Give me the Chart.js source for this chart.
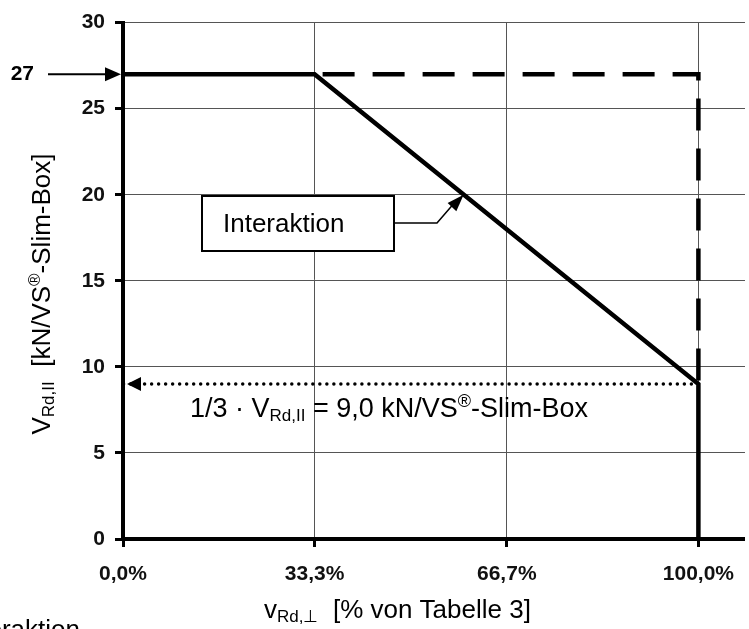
<!DOCTYPE html>
<html>
<head>
<meta charset="utf-8">
<script src="https://cdn.jsdelivr.net/npm/chart.js@4.4.1/dist/chart.umd.min.js"></script>
<style>
  html, body { margin: 0; padding: 0; background: #fff; }
  #wrap { position: relative; width: 749px; height: 629px; overflow: hidden; }
</style>
</head>
<body>
<div id="wrap"><canvas id="chart" width="749" height="629"></canvas></div>
<script>
// Werte aus dem Diagramm (x in % von Tabelle 3, y in kN/VS-Slim-Box)
const xTicks = [0, 33.3, 66.7, 100];
const xTickLabels = ['0,0%', '33,3%', '66,7%', '100,0%'];
const interaktionX = [0, 33.3, 100, 100];
const interaktionY = [27, 27, 9, 0];
const grenzeX = [33.3, 100, 100];
const grenzeY = [27, 27, 9];
const drittelX = [100, 0];
const drittelY = [9, 9];
const vMax = 27;
const vDrittel = 9;
const zeigerX = 59.2; // Punkt auf der Interaktionslinie, auf den der Pfeil zeigt
const zeigerY = 20;

const FONT = "'Liberation Sans', Arial, sans-serif";

function pts(xs, ys) {
    return xs.map((x, i) => ({ x: x, y: ys[i] }));
}

// Text mit Hoch-/Tiefstellungen zeichnen
function drawRich(ctx, parts, x, y) {
    let cx = x;
    parts.forEach(p => {
        ctx.font = p.size + 'px ' + FONT;
        ctx.fillText(p.t, cx, y + (p.dy || 0));
        cx += ctx.measureText(p.t).width;
    });
    return cx - x;
}

function richWidth(ctx, parts) {
    let w = 0;
    parts.forEach(p => {
        ctx.font = p.size + 'px ' + FONT;
        w += ctx.measureText(p.t).width;
    });
    return w;
}

function arrowHead(ctx, tipX, tipY, dir, len, half) {
    // dir: -1 zeigt nach links, +1 nach rechts
    ctx.beginPath();
    ctx.moveTo(tipX, tipY);
    ctx.lineTo(tipX - dir * len, tipY - half);
    ctx.lineTo(tipX - dir * len, tipY + half);
    ctx.closePath();
    ctx.fill();
}

const annotations = {
    id: 'annotations',
    afterDraw(chart) {
        const ctx = chart.ctx;
        const xs = chart.scales.x;
        const ys = chart.scales.y;
        const left = chart.chartArea.left;
        ctx.save();
        ctx.fillStyle = '#000';
        ctx.strokeStyle = '#000';
        ctx.textBaseline = 'alphabetic';

        // Pfeil bei 27
        const y27 = ys.getPixelForValue(vMax);
        ctx.lineWidth = 2;
        ctx.beginPath();
        ctx.moveTo(48, y27);
        ctx.lineTo(left - 12, y27);
        ctx.stroke();
        arrowHead(ctx, left - 2, y27, 1, 16, 7);
        ctx.font = 'bold 21px ' + FONT;
        ctx.textAlign = 'right';
        ctx.textBaseline = 'middle';
        ctx.fillText(String(vMax), 34, y27);

        // Pfeilspitze der gepunkteten Linie
        const y9 = ys.getPixelForValue(vDrittel);
        arrowHead(ctx, xs.getPixelForValue(0) + 4, y9, -1, 14, 7);

        // Kasten "Interaktion"
        ctx.fillStyle = '#fff';
        ctx.fillRect(202, 196, 192, 55);
        ctx.lineWidth = 2;
        ctx.strokeRect(202, 196, 192, 55);
        ctx.fillStyle = '#000';
        ctx.textAlign = 'left';
        ctx.textBaseline = 'alphabetic';
        ctx.font = '26px ' + FONT;
        ctx.fillText('Interaktion', 223, 232);

        // Zeiger vom Kasten zur Linie
        const tx = xs.getPixelForValue(zeigerX);
        const ty = ys.getPixelForValue(zeigerY);
        ctx.lineWidth = 1.5;
        ctx.beginPath();
        ctx.moveTo(394, 223);
        ctx.lineTo(437, 223);
        ctx.lineTo(tx - 10, ty + 9);
        ctx.stroke();
        ctx.save();
        ctx.translate(tx, ty);
        ctx.rotate(Math.atan2(ty - 223, tx - 437));
        arrowHead(ctx, 0, 0, 1, 17, 6);
        ctx.restore();

        ctx.textAlign = 'left';
        ctx.textBaseline = 'alphabetic';

        // Beschriftung 1/3 · V
        drawRich(ctx, [
            { t: '1/3 · V', size: 27 },
            { t: 'Rd,II', size: 17, dy: 4 },
            { t: ' = 9,0 kN/VS', size: 27 },
            { t: '®', size: 18, dy: -10 },
            { t: '-Slim-Box', size: 27 }
        ], 190, 417);

        // y-Achsentitel
        const yParts = [
            { t: 'V', size: 26 },
            { t: 'Rd,II', size: 17, dy: 4 },
            { t: '  [kN/VS', size: 26 },
            { t: '®', size: 17, dy: -10 },
            { t: '-Slim-Box]', size: 26 }
        ];
        const yw = richWidth(ctx, yParts);
        ctx.save();
        ctx.translate(50, 294);
        ctx.rotate(-Math.PI / 2);
        drawRich(ctx, yParts, -yw / 2, 0);
        ctx.restore();

        // x-Achsentitel
        drawRich(ctx, [
            { t: 'v', size: 26 },
            { t: 'Rd,⊥', size: 17, dy: 4 },
            { t: '  [% von Tabelle 3]', size: 26 }
        ], 264, 618);

        // abgeschnittene Bildunterschrift unten links
        ctx.font = '26px ' + FONT;
        ctx.textAlign = 'right';
        ctx.fillText('Interaktion', 80, 638);

        ctx.restore();
    }
};

new Chart(document.getElementById('chart'), {
    type: 'scatter',
    data: {
        datasets: [
            {
                label: 'Interaktion',
                data: pts(interaktionX, interaktionY),
                showLine: true,
                borderColor: '#000',
                borderWidth: 4.5,
                borderJoinStyle: 'miter',
                pointRadius: 0,
                tension: 0
            },
            {
                label: 'Grenze',
                data: pts(grenzeX, grenzeY),
                showLine: true,
                borderColor: '#000',
                borderWidth: 4.5,
                borderDash: [32, 18],
                borderDashOffset: 42,
                borderJoinStyle: 'miter',
                pointRadius: 0,
                tension: 0
            },
            {
                label: '1/3',
                data: pts(drittelX, drittelY),
                showLine: true,
                borderColor: '#000',
                borderWidth: 3.5,
                borderDash: [0.01, 7],
                borderCapStyle: 'round',
                pointRadius: 0,
                tension: 0
            }
        ]
    },
    options: {
        responsive: false,
        animation: false,
        layout: { padding: { top: 20, left: 0, right: 0, bottom: 0 } },
        plugins: {
            legend: { display: false },
            tooltip: { enabled: false }
        },
        scales: {
            x: {
                type: 'linear',
                min: 0,
                max: 108.1,
                afterBuildTicks: scale => {
                    scale.ticks = xTicks.map(v => ({ value: v }));
                },
                afterFit: scale => { scale.height = 90; },
                ticks: {
                    callback: v => xTickLabels[xTicks.indexOf(v)],
                    font: { family: FONT, size: 21, weight: 'bold' },
                    color: '#111',
                    padding: 15,
                    maxRotation: 0
                },
                grid: {
                    color: '#555',
                    lineWidth: 1,
                    tickLength: 8,
                    tickColor: '#000',
                    tickWidth: 3
                },
                border: { color: '#000', width: 4 }
            },
            y: {
                min: 0,
                max: 30,
                afterFit: scale => { scale.width = 123; },
                ticks: {
                    stepSize: 5,
                    font: { family: FONT, size: 21, weight: 'bold' },
                    color: '#111',
                    padding: 10
                },
                grid: {
                    color: '#555',
                    lineWidth: 1,
                    tickLength: 8,
                    tickColor: '#000',
                    tickWidth: 3
                },
                border: { color: '#000', width: 4 }
            }
        }
    },
    plugins: [annotations]
});
</script>
</body>
</html>
